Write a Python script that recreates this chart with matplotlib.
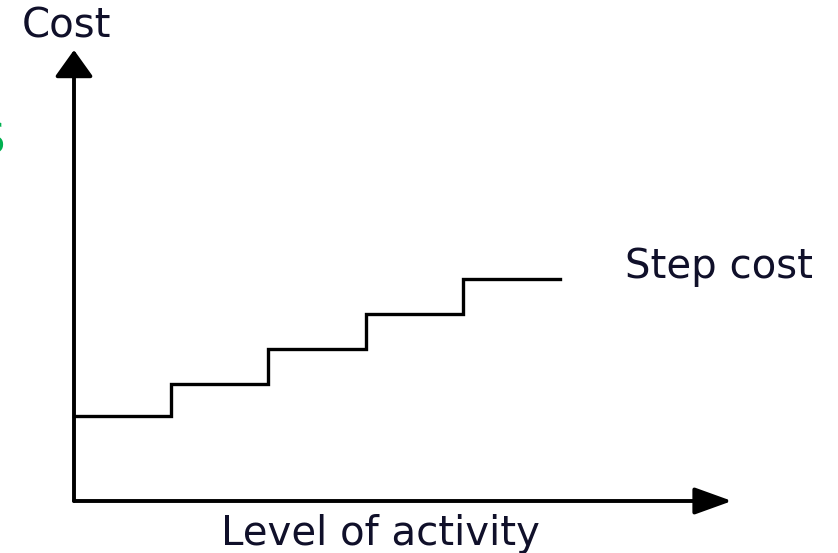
import matplotlib
matplotlib.use('Agg')
import matplotlib.pyplot as plt

# -----------------------------------------------------------------------------
# Data
# -----------------------------------------------------------------------------
activity_breaks = [0, 1, 2, 3, 4, 5]          # level of activity where cost steps
cost_levels = [8.5, 11.7, 15.2, 18.7, 22.2]   # cost on each step
x_max, y_max = 6.77, 45.1

y_label = 'Cost'
x_label = 'Level of activity'
line_label = 'Step cost'

W, H = 838, 553
TXT = '#10102a'

fig = plt.figure(figsize=(W / 100, H / 100), dpi=100)
ax = fig.add_axes([74 / W, (H - 501) / H, (732 - 74) / W, (501 - 50) / H])
ax.set_xlim(0, x_max)
ax.set_ylim(0, y_max)
ax.axis('off')

# step line: horizontal runs between breaks, last level held to the end
xs = [activity_breaks[0]]
ys = [cost_levels[0]]
for i, lvl in enumerate(cost_levels):
    xs += [activity_breaks[i], activity_breaks[i + 1]]
    ys += [lvl, lvl]
ax.plot(xs, ys, color='black', lw=2.4, solid_joinstyle='miter', clip_on=False)

# axes with arrow heads
ax.annotate('', xy=(0, 1), xytext=(0, 0), xycoords='axes fraction',
            arrowprops=dict(arrowstyle='-|>,head_length=16.5,head_width=11.8',
                            mutation_scale=1, color='black', lw=2.8,
                            shrinkA=0, shrinkB=0))
ax.annotate('', xy=(1, 0), xytext=(0, 0), xycoords='axes fraction',
            arrowprops=dict(arrowstyle='-|>,head_length=23,head_width=8.3',
                            mutation_scale=1, color='black', lw=2.8,
                            shrinkA=0, shrinkB=0))

# labels
def px(x, y):
    return x / W, 1 - y / H

fig.text(*px(66, 37), y_label, ha='center', va='baseline', fontsize=29, color=TXT)
fig.text(*px(380, 545), x_label, ha='center', va='baseline', fontsize=29, color=TXT)
fig.text(*px(719, 278), line_label, ha='center', va='baseline', fontsize=29, color=TXT)
# clipped green letter at the left edge
fig.text(*px(5, 153), 'S', ha='right', va='baseline', fontsize=30, color='#00b050')

fig.savefig('out.png', dpi=100)
